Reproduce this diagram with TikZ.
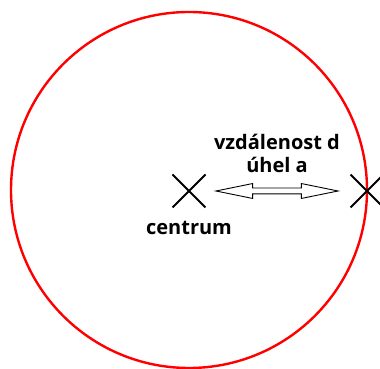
\documentclass[tikz,border=0pt]{standalone}
\usepackage{fontspec}
\setmainfont{Open Sans}
\usetikzlibrary{shapes.misc,shapes.arrows}
\begin{document}
\begin{tikzpicture}[x=1pt,y=1pt,
  xmark/.style={draw=black,cross out,line width=2pt,minimum size=31pt,inner sep=0pt},
  lbl/.style={font=\bfseries\fontsize{20}{23}\selectfont,align=center,inner sep=0pt},
  darrow/.style={draw=black,fill=white,double arrow,line width=0.9pt,
    minimum height=122pt,inner sep=2.5pt,double arrow head extend=4.5pt,
    double arrow tip angle=23}]
\useasboundingbox (0,0) rectangle (380,369);
\begin{scope}
\clip (0,0) rectangle (380,369);
\draw[red,line width=2.4pt] (189,179) circle[radius=178];
\node[xmark] (c) at (189,178) {};
\node[xmark] (p) at (367,178) {};
\end{scope}
\node[darrow] (a) at (277,178) {};
\node[lbl] (t) at (277,216) {vzdálenost d\\úhel a};
\node[lbl] (n) at (189,141) {centrum};
\end{tikzpicture}
\end{document}
